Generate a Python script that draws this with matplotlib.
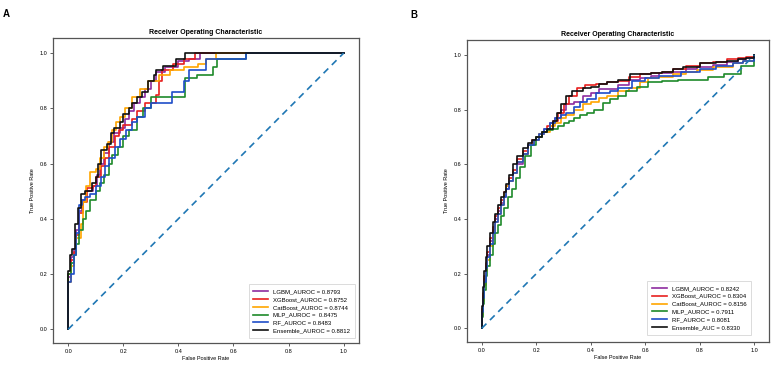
import matplotlib
matplotlib.use("Agg")
import matplotlib.pyplot as plt

plt.rcParams['font.family'] = ['Liberation Sans', 'DejaVu Sans']

colors = ['#8e2ca0', '#e8201f', '#ffa500', '#1e8a2a', '#1f4ec8', '#111111']

# ---- panel A (step ROC corners: fpr, tpr) ----
a_labels = ['LGBM_AUROC = 0.8793', 'XGBoost_AUROC = 0.8752', 'CatBoost_AUROC = 0.8744',
            'MLP_AUROC =  0.8475', 'RF_AUROC = 0.8483', 'Ensemble_AUROC = 0.8812']

a_lgbm_fpr = [0, 0, 0.01, 0.02, 0.03, 0.04, 0.05, 0.065, 0.09, 0.105, 0.115, 0.13, 0.15, 0.165,
              0.19, 0.205, 0.22, 0.24, 0.26, 0.28, 0.30, 0.32, 0.35, 0.40, 0.44, 0.48, 1.0]
a_lgbm_tpr = [0, 0.19, 0.26, 0.29, 0.36, 0.43, 0.47, 0.50, 0.52, 0.56, 0.60, 0.64, 0.68, 0.71,
              0.73, 0.76, 0.79, 0.82, 0.84, 0.87, 0.90, 0.93, 0.95, 0.97, 0.98, 1.0, 1.0]

a_xgb_fpr = [0, 0, 0.01, 0.02, 0.03, 0.04, 0.055, 0.07, 0.09, 0.1, 0.12, 0.135, 0.15, 0.17,
             0.185, 0.2, 0.23, 0.25, 0.28, 0.32, 0.33, 0.34, 0.38, 0.42, 0.46, 1.0]
a_xgb_tpr = [0, 0.2, 0.25, 0.28, 0.34, 0.42, 0.46, 0.51, 0.52, 0.55, 0.59, 0.62, 0.66, 0.70,
             0.72, 0.74, 0.76, 0.79, 0.82, 0.85, 0.90, 0.94, 0.96, 0.98, 1.0, 1.0]

a_cat_fpr = [0, 0, 0.01, 0.02, 0.03, 0.045, 0.055, 0.065, 0.08, 0.1, 0.115, 0.13, 0.145, 0.16,
             0.175, 0.19, 0.205, 0.23, 0.26, 0.29, 0.33, 0.37, 0.42, 0.47, 0.5, 0.535, 1.0]
a_cat_tpr = [0, 0.17, 0.23, 0.27, 0.33, 0.38, 0.46, 0.52, 0.57, 0.58, 0.62, 0.66, 0.68, 0.72,
             0.75, 0.77, 0.80, 0.84, 0.87, 0.90, 0.92, 0.94, 0.95, 0.96, 0.98, 1.0, 1.0]

a_mlp_fpr = [0, 0, 0.01, 0.02, 0.03, 0.04, 0.055, 0.065, 0.08, 0.1, 0.115, 0.13, 0.15, 0.16,
             0.18, 0.2, 0.22, 0.25, 0.27, 0.3, 0.425, 0.468, 0.525, 0.54, 0.644, 1.0]
a_mlp_tpr = [0, 0.2, 0.24, 0.27, 0.31, 0.36, 0.40, 0.43, 0.47, 0.50, 0.53, 0.56, 0.60, 0.63,
             0.66, 0.70, 0.72, 0.77, 0.80, 0.84, 0.91, 0.92, 0.95, 0.98, 1.0, 1.0]

a_rf_fpr = [0, 0, 0.01, 0.02, 0.03, 0.04, 0.05, 0.06, 0.08, 0.1, 0.12, 0.135, 0.15, 0.17,
            0.19, 0.21, 0.23, 0.25, 0.28, 0.3, 0.377, 0.42, 0.44, 0.5, 0.644, 1.0]
a_rf_tpr = [0, 0.17, 0.2, 0.27, 0.35, 0.45, 0.47, 0.48, 0.49, 0.52, 0.55, 0.59, 0.62, 0.66,
            0.69, 0.72, 0.75, 0.77, 0.80, 0.82, 0.86, 0.90, 0.94, 0.98, 1.0, 1.0]

a_ens_fpr = [0, 0, 0.008, 0.015, 0.025, 0.035, 0.045, 0.06, 0.085, 0.1, 0.11, 0.12, 0.14, 0.155,
             0.165, 0.19, 0.2, 0.22, 0.23, 0.25, 0.268, 0.29, 0.31, 0.32, 0.345, 0.39, 0.425, 1.0]
a_ens_tpr = [0, 0.21, 0.27, 0.29, 0.38, 0.44, 0.49, 0.50, 0.53, 0.55, 0.60, 0.65, 0.67, 0.71,
             0.73, 0.75, 0.78, 0.80, 0.82, 0.84, 0.86, 0.90, 0.92, 0.94, 0.955, 0.98, 1.0, 1.0]

# ---- panel B ----
b_labels = ['LGBM_AUROC = 0.8242', 'XGBoost_AUROC = 0.8304', 'CatBoost_AUROC = 0.8156',
            'MLP_AUROC = 0.7911', 'RF_AUROC = 0.8081', 'Ensemble_AUC = 0.8330']

b_lgbm_fpr = [0, 0, 0.005, 0.01, 0.015, 0.02, 0.03, 0.04, 0.05, 0.06, 0.07, 0.08, 0.09, 0.1,
              0.115, 0.13, 0.15, 0.17, 0.19, 0.21, 0.23, 0.25, 0.27, 0.29, 0.31, 0.34,
              0.37, 0.40, 0.43, 0.47, 0.5, 0.54, 0.58, 0.62, 0.65, 0.7, 0.75, 0.79,
              0.85, 0.9, 0.94, 0.97, 1.0]
b_lgbm_tpr = [0, 0.06, 0.12, 0.18, 0.23, 0.27, 0.32, 0.36, 0.40, 0.43, 0.46, 0.48, 0.51, 0.54,
              0.57, 0.60, 0.64, 0.67, 0.69, 0.71, 0.73, 0.75, 0.77, 0.80, 0.82, 0.83,
              0.85, 0.86, 0.875, 0.875, 0.89, 0.91, 0.915, 0.925, 0.935, 0.94, 0.95, 0.955,
              0.965, 0.975, 0.985, 0.99, 1.0]

b_xgb_fpr = [0, 0, 0.005, 0.01, 0.015, 0.02, 0.03, 0.04, 0.05, 0.06, 0.07, 0.08, 0.09, 0.1,
             0.115, 0.13, 0.15, 0.17, 0.185, 0.2, 0.22, 0.24, 0.26, 0.28, 0.3, 0.32,
             0.35, 0.38, 0.42, 0.46, 0.5, 0.54, 0.58, 0.62, 0.66, 0.7, 0.75, 0.8,
             0.85, 0.9, 0.94, 0.97, 1.0]
b_xgb_tpr = [0, 0.07, 0.13, 0.19, 0.24, 0.28, 0.33, 0.37, 0.41, 0.44, 0.47, 0.50, 0.52, 0.55,
             0.58, 0.62, 0.65, 0.67, 0.69, 0.70, 0.72, 0.74, 0.76, 0.79, 0.82, 0.85,
             0.88, 0.89, 0.895, 0.90, 0.905, 0.92, 0.93, 0.935, 0.94, 0.95, 0.96, 0.97,
             0.975, 0.985, 0.99, 0.995, 1.0]

b_cat_fpr = [0, 0, 0.005, 0.01, 0.015, 0.02, 0.03, 0.04, 0.05, 0.06, 0.07, 0.08, 0.09, 0.1,
             0.115, 0.13, 0.15, 0.17, 0.19, 0.21, 0.23, 0.25, 0.27, 0.29, 0.31, 0.34,
             0.37, 0.40, 0.43, 0.46, 0.5, 0.54, 0.58, 0.61, 0.65, 0.7, 0.75, 0.79,
             0.85, 0.92, 0.96, 1.0]
b_cat_tpr = [0, 0.05, 0.10, 0.16, 0.21, 0.25, 0.30, 0.35, 0.39, 0.42, 0.45, 0.49, 0.52, 0.54,
             0.57, 0.61, 0.64, 0.67, 0.69, 0.71, 0.72, 0.74, 0.75, 0.77, 0.78, 0.80,
             0.82, 0.83, 0.845, 0.85, 0.87, 0.88, 0.90, 0.915, 0.92, 0.93, 0.94, 0.945,
             0.955, 0.97, 0.98, 1.0]

b_mlp_fpr = [0, 0, 0.005, 0.01, 0.015, 0.02, 0.03, 0.04, 0.05, 0.06, 0.07, 0.08,
             0.095, 0.11, 0.125, 0.14, 0.16, 0.18, 0.2, 0.22, 0.24, 0.26, 0.28, 0.30,
             0.32, 0.34, 0.36, 0.385, 0.41, 0.445, 0.47, 0.5, 0.53, 0.57, 0.61, 0.66,
             0.72, 0.77, 0.83, 0.89, 0.95, 1.0]
b_mlp_tpr = [0, 0.04, 0.09, 0.14, 0.19, 0.23, 0.27, 0.31, 0.35, 0.38, 0.41, 0.44,
             0.48, 0.51, 0.55, 0.59, 0.63, 0.67, 0.70, 0.72, 0.725, 0.73, 0.74, 0.75,
             0.76, 0.77, 0.78, 0.79, 0.80, 0.825, 0.84, 0.85, 0.87, 0.885, 0.90, 0.905,
             0.91, 0.91, 0.92, 0.93, 0.96, 1.0]

b_rf_fpr = [0, 0, 0.005, 0.01, 0.015, 0.02, 0.03, 0.04, 0.05, 0.06, 0.07, 0.08, 0.09, 0.1,
            0.115, 0.13, 0.15, 0.17, 0.19, 0.21, 0.23, 0.25, 0.27, 0.29, 0.31, 0.34,
            0.36, 0.385, 0.42, 0.47, 0.5, 0.55, 0.6, 0.65, 0.73, 0.8, 0.86, 0.92,
            0.96, 1.0]
b_rf_tpr = [0, 0.06, 0.11, 0.17, 0.22, 0.26, 0.31, 0.35, 0.39, 0.42, 0.45, 0.48, 0.51, 0.54,
            0.57, 0.61, 0.64, 0.67, 0.69, 0.71, 0.73, 0.75, 0.77, 0.78, 0.79, 0.81,
            0.83, 0.84, 0.86, 0.87, 0.88, 0.905, 0.915, 0.925, 0.94, 0.95, 0.96, 0.97,
            0.98, 1.0]

b_ens_fpr = [0, 0, 0.005, 0.01, 0.015, 0.02, 0.03, 0.04, 0.05, 0.06, 0.07, 0.08, 0.09, 0.1,
             0.115, 0.13, 0.15, 0.17, 0.185, 0.2, 0.22, 0.24, 0.26, 0.276, 0.29, 0.31, 0.33,
             0.37, 0.4, 0.43, 0.46, 0.5, 0.544, 0.58, 0.62, 0.66, 0.7, 0.74, 0.8,
             0.86, 0.9, 0.94, 0.97, 1.0]
b_ens_tpr = [0, 0.08, 0.15, 0.21, 0.26, 0.30, 0.35, 0.39, 0.42, 0.45, 0.48, 0.50, 0.53, 0.56,
             0.60, 0.63, 0.66, 0.68, 0.69, 0.70, 0.72, 0.73, 0.76, 0.79, 0.82, 0.85, 0.87,
             0.88, 0.885, 0.895, 0.90, 0.91, 0.93, 0.93, 0.935, 0.94, 0.95, 0.955, 0.97,
             0.975, 0.98, 0.985, 0.99, 1.0]

panel_a = [(a_lgbm_fpr, a_lgbm_tpr), (a_xgb_fpr, a_xgb_tpr), (a_cat_fpr, a_cat_tpr),
           (a_mlp_fpr, a_mlp_tpr), (a_rf_fpr, a_rf_tpr), (a_ens_fpr, a_ens_tpr)]
panel_b = [(b_lgbm_fpr, b_lgbm_tpr), (b_xgb_fpr, b_xgb_tpr), (b_cat_fpr, b_cat_tpr),
           (b_mlp_fpr, b_mlp_tpr), (b_rf_fpr, b_rf_tpr), (b_ens_fpr, b_ens_tpr)]

fig = plt.figure(figsize=(7.74, 3.65), dpi=100)
ax_a = fig.add_axes([0.0685, 0.060, 0.395, 0.836])
ax_b = fig.add_axes([0.603, 0.063, 0.391, 0.827])


def draw(ax, curves, labels, leg_anchor):
    for (fpr, tpr), lab, c in zip(curves, labels, colors):
        ax.step(fpr, tpr, where='post', color=c, lw=1.2, label=lab)
    ax.plot([0, 1], [0, 1], linestyle='--', color='#1f77b4', lw=1.2, dashes=(4, 3))
    ax.set_xlim(-0.055, 1.055)
    ax.set_ylim(-0.05, 1.055)
    ax.set_xticks([0, 0.2, 0.4, 0.6, 0.8, 1.0])
    ax.set_yticks([0, 0.2, 0.4, 0.6, 0.8, 1.0])
    ax.tick_params(labelsize=4, length=2, width=0.6, pad=2, color='#444444')
    for s in ax.spines.values():
        s.set_color('#555555')
        s.set_linewidth(0.9)
    ax.set_xlabel('False Positive Rate', fontsize=4, labelpad=2)
    ax.set_ylabel('True Positive Rate', fontsize=4, labelpad=3)
    ax.set_title('Receiver Operating Characteristic', fontsize=5, fontweight='bold', pad=3)
    leg = ax.legend(loc='lower right', bbox_to_anchor=leg_anchor, fontsize=4.3,
                    handlelength=2.5, borderpad=0.8, labelspacing=0.45, frameon=True,
                    fancybox=False, borderaxespad=0)
    leg.get_frame().set_edgecolor('#cccccc')
    leg.get_frame().set_linewidth(0.6)


draw(ax_a, panel_a, a_labels, (0.987, 0.016))
draw(ax_b, panel_b, b_labels, (0.94, 0.023))

fig.text(0.003, 0.975, 'A', fontsize=7, fontweight='bold', va='top')
fig.text(0.530, 0.972, 'B', fontsize=7, fontweight='bold', va='top')

fig.savefig('out.png', dpi=100)
